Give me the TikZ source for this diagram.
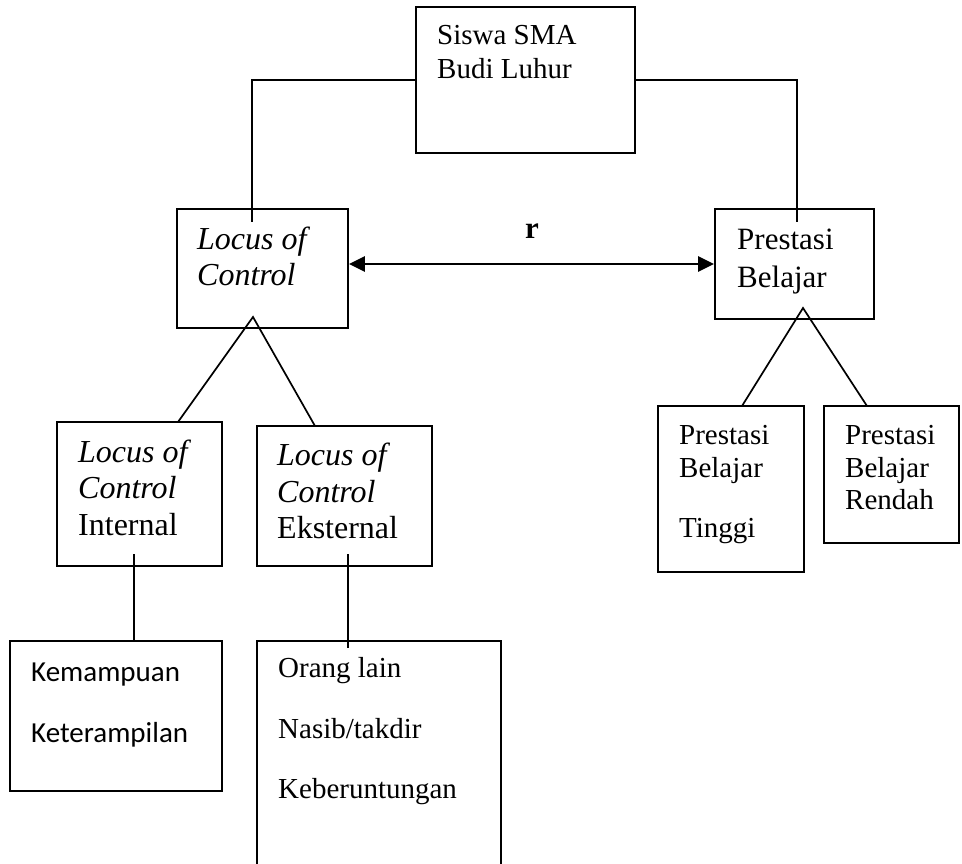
\documentclass[tikz,border=0pt]{standalone}
\usepackage{fontspec}
\setmainfont{Liberation Serif}
\newfontfamily\calibfont{Carlito}
\usetikzlibrary{arrows.meta,calc}
\begin{document}
\begin{tikzpicture}[x=1pt,y=-1pt,
  box/.style={draw,line width=1.8pt,rectangle,inner sep=0pt},
  frame/.style={rectangle,inner sep=0pt},
  txt/.style={anchor=base west,inner sep=0pt,font=\fontsize{29}{34}\selectfont},
  btxt/.style={anchor=base west,inner sep=0pt,font=\fontsize{32}{36}\selectfont},
  mtxt/.style={anchor=base west,inner sep=0pt,font=\fontsize{31}{36}\selectfont},
  stxt/.style={anchor=base west,inner sep=0pt,font=\calibfont\fontsize{29}{34}\selectfont},
  conn/.style={line width=1.7pt},
  dbl/.style={line width=2.8pt,{Triangle[length=16pt,width=15pt]}-{Triangle[length=16pt,width=15pt]}}]
\useasboundingbox (0,0) rectangle (962,864);

% boxes
\node[box,minimum width=219pt,minimum height=146pt] (siswa) at (525.5,80) {};
\node[box,minimum width=171pt,minimum height=119pt] (loc) at (262.5,268.5) {};
\node[box,minimum width=159pt,minimum height=110pt] (pb) at (794.5,264) {};
\node[box,minimum width=165pt,minimum height=144pt] (intl) at (139.5,494) {};
\node[box,minimum width=175pt,minimum height=140pt] (ekst) at (344.5,496) {};
\node[box,minimum width=146pt,minimum height=166pt] (tinggi) at (731,489) {};
\node[box,minimum width=135pt,minimum height=137pt] (rendah) at (891.5,474.5) {};
\node[box,minimum width=212pt,minimum height=150pt] (kem) at (116,716) {};
\node[frame,minimum width=244pt,minimum height=230pt] (orang) at (379,756) {};
\draw[line width=1.8pt] (orang.south west) -- (orang.north west) -- (orang.north east) -- (orang.south east);

% texts
\node[txt] (s1) at (437,45) {Siswa SMA};
\node[txt] (s2) at (437,79) {Budi Luhur};
\node[btxt] (l1) at (197,250) {\textit{Locus of}};
\node[btxt] (l2) at (197,285) {\textit{Control}};
\node[mtxt] (p1) at (737,249) {Prestasi};
\node[mtxt] (p2) at (737,287) {Belajar};
\node[btxt] (i1) at (78,462) {\textit{Locus of}};
\node[btxt] (i2) at (78,498) {\textit{Control}};
\node[btxt] (i3) at (78,535) {Internal};
\node[btxt] (e1) at (277,465) {\textit{Locus of}};
\node[btxt] (e2) at (277,502) {\textit{Control}};
\node[btxt] (e3) at (277,538) {Eksternal};
\node[txt] (t1) at (679,444) {Prestasi};
\node[txt] (t2) at (679,477) {Belajar};
\node[txt] (t3) at (679,537) {Tinggi};
\node[txt] (r1) at (845,444) {Prestasi};
\node[txt] (r2) at (845,477) {Belajar};
\node[txt] (r3) at (845,509) {Rendah};
\node[stxt] (k1) at (31,681) {Kemampuan};
\node[stxt] (k2) at (31,742) {Keterampilan};
\node[txt] (o1) at (278,677) {Orang lain};
\node[txt] (o2) at (278,738) {Nasib/takdir};
\node[txt] (o3) at (278,798) {Keberuntungan};
\node[anchor=base,inner sep=0pt,font=\bfseries\fontsize{31}{36}\selectfont] (rlab) at (532,238) {r};

% connector points
\coordinate (locin) at (252,222);
\coordinate (pbin) at (797,222);
\coordinate (lap) at (253,317);
\coordinate (lia) at (178,422);
\coordinate (lea) at (315,426);
\coordinate (rap) at (803,308);
\coordinate (rta) at (742,406);
\coordinate (rra) at (867,406);
\coordinate (kemout) at (134,554);
\coordinate (ekout) at (348,554);
\coordinate (orin) at (348,648);

% connectors
\draw[conn] (siswa.west) -| (locin);
\draw[conn] (siswa.east) -| (pbin);
\draw[dbl] (loc.east |- pb.west) -- (pb.west);
\draw[conn] (lia) -- (lap) -- (lea);
\draw[conn] (rta) -- (rap) -- (rra);
\draw[conn] (kemout) -- (kemout |- kem.north);
\draw[conn] (ekout) -- (orin);
\end{tikzpicture}
\end{document}
